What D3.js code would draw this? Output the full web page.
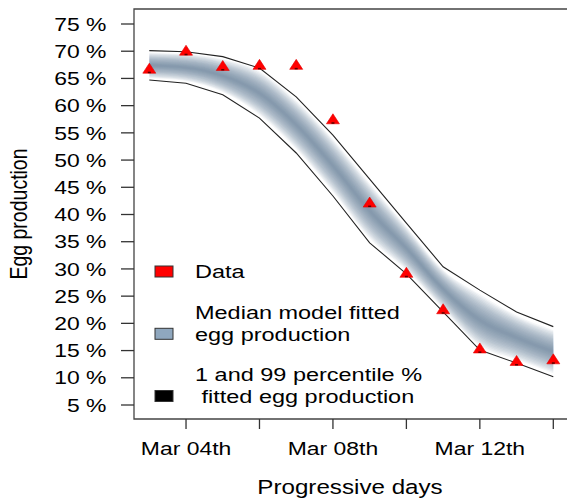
<!DOCTYPE html>
<html><head><meta charset="utf-8">
<script src="https://cdn.jsdelivr.net/npm/d3@7"></script>
<style>body{margin:0;background:#fff}svg{display:block}</style>
</head><body><svg id="c" width="567" height="500"></svg>
<script>
// ---- data ----
const dates = ["2021-03-03","2021-03-04","2021-03-05","2021-03-06","2021-03-07","2021-03-08",
               "2021-03-09","2021-03-10","2021-03-11","2021-03-12","2021-03-13","2021-03-14"];
const observed = [66.7, 70.0, 67.2, 67.4, 67.4, 57.4, 42.1, 29.2, 22.5, 15.3, 13.0, 13.3];
const median   = [67.4, 67.0, 65.5, 62.3, 56.5, 49.0, 40.7, 33.8, 26.3, 20.6, 17.4, 14.8];
const upper99  = [70.1, 69.9, 69.0, 66.9, 61.6, 54.6, 46.5, 38.4, 30.4, 26.1, 22.1, 19.4];
const lower1   = [64.7, 64.1, 62.0, 57.7, 51.3, 43.4, 34.8, 29.1, 22.1, 15.1, 12.7, 10.2];
const yTicks = [5,10,15,20,25,30,35,40,45,50,55,60,65,70,75];
const xTickDates  = ["2021-03-04","2021-03-06","2021-03-08","2021-03-10","2021-03-12","2021-03-14"];
const xTickLabels = ["Mar 04th","","Mar 08th","","Mar 12th",""];
const legendLabels = [["Data"],["Median model fitted","egg production"],["1 and 99 percentile %"," fitted egg production"]];
const legendColors = ["#ff0000","#8fa7be","#000000"];
const xTitle = "Progressive days", yTitle = "Egg production";

// ---- layout ----
const parse = d3.timeParse("%Y-%m-%d");
const svg = d3.select("#c");
const box = {l:134, t:9, r:570, b:419};
const SX = 1.24; // horizontal stretch of glyphs
const SXL = 1.27;
const font = "'Liberation Sans', Arial, sans-serif";

const x = d3.scaleTime().domain([parse(dates[0]), parse(dates[dates.length-1])]).range([149.3, 553.3]);
const y = d3.scaleLinear().domain([5,75]).range([405,24]);

const pts = dates.map((d,i)=>({x:parse(d), obs:observed[i], med:median[i], hi:upper99[i], lo:lower1[i]}));

// ---- shaded median band ----
const N = 16;
const bandG = svg.append("g");
for (let k=N; k>=1; k--) {
  const f = 0.86 * k / N;
  const area = d3.area().curve(d3.curveMonotoneX)
    .x(d=>x(d.x))
    .y0(d=>y(d.med - f*(d.med - d.lo)))
    .y1(d=>y(d.med + f*(d.hi - d.med)));
  bandG.append("path").datum(pts).attr("d", area)
    .attr("fill","#4f7290").attr("fill-opacity",0.07);
}

// ---- percentile lines ----
const lineHi = d3.line().x(d=>x(d.x)).y(d=>y(d.hi));
const lineLo = d3.line().x(d=>x(d.x)).y(d=>y(d.lo));
svg.append("path").datum(pts).attr("d",lineHi).attr("fill","none").attr("stroke","#222").attr("stroke-width",1.1);
svg.append("path").datum(pts).attr("d",lineLo).attr("fill","none").attr("stroke","#222").attr("stroke-width",1.1);

// ---- data points ----
svg.append("g").selectAll("path").data(pts).join("path")
  .attr("transform", d=>`translate(${x(d.x)},${y(d.obs)})`)
  .attr("d","M0,-6L6.5,4L-6.5,4Z")
  .attr("fill","#ff0000").attr("stroke","#e00000").attr("stroke-width",0.6);
svg.append("g").selectAll("rect").data(pts).join("rect")
  .attr("x", d=>x(d.x)-1.5).attr("y", d=>y(d.obs)+2.5).attr("width",3).attr("height",1.5)
  .attr("fill","#5a0000");

// ---- box ----
svg.append("path")
  .attr("d",`M${box.r},${box.t}H${box.l}V${box.b}H${box.r}`)
  .attr("fill","none").attr("stroke","#444").attr("stroke-width",1.3);

// ---- y axis ----
const yAx = svg.append("g");
yTicks.forEach(v=>{
  yAx.append("line").attr("x1",121).attr("x2",box.l).attr("y1",y(v)).attr("y2",y(v))
    .attr("stroke","#333").attr("stroke-width",1.3);
  yAx.append("text").attr("transform",`translate(106.5,${y(v)}) scale(${SX},1)`)
    .attr("dy","0.36em").attr("text-anchor","end")
    .style("font-family",font).style("font-size","18.5px").attr("fill","#000")
    .text(v+" %");
});

// ---- x axis ----
const xAx = svg.append("g");
xTickDates.forEach((d,i)=>{
  const px = x(parse(d));
  xAx.append("line").attr("x1",px).attr("x2",px).attr("y1",box.b).attr("y2",box.b+10)
    .attr("stroke","#333").attr("stroke-width",1.3);
  if (xTickLabels[i]) xAx.append("text").attr("transform",`translate(${px},455) scale(${SX},1)`)
    .attr("text-anchor","middle").style("font-family",font).style("font-size","18.5px")
    .attr("fill","#000").text(xTickLabels[i]);
});

// ---- titles ----
svg.append("text").attr("transform",`translate(350,494) scale(${SX},1)`)
  .attr("text-anchor","middle").style("font-family",font).style("font-size","19.5px").text(xTitle);
svg.append("text").attr("transform",`translate(27,214) scale(${SX},1) rotate(-90)`)
  .attr("text-anchor","middle").style("font-family",font).style("font-size","19.5px").text(yTitle);

// ---- legend ----
const legY = [271.5, 333.8, 396];
const legG = svg.append("g");
legendLabels.forEach((lines,i)=>{
  legG.append("rect").attr("x",155).attr("y",legY[i]-5.5).attr("width",18).attr("height",11)
    .attr("fill",legendColors[i]).attr("stroke","#333").attr("stroke-width",1);
  const n = lines.length;
  lines.forEach((t,j)=>{
    const base = legY[i] + 6.8 + (j - (n-1)) * 22;
    legG.append("text").attr("transform",`translate(195,${base}) scale(${SXL},1)`)
      .style("font-family",font).style("font-size","18.5px").style("white-space","pre")
      .attr("xml:space","preserve").attr("fill","#000").text(t);
  });
});
</script></body></html>
